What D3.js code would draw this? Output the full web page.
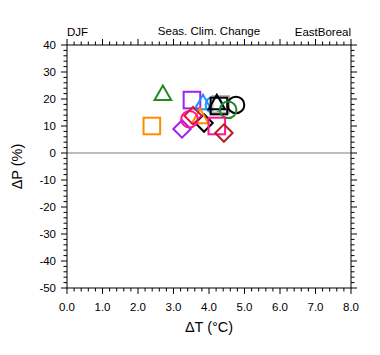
<!DOCTYPE html>
<html><head><meta charset="utf-8">
<script src="https://cdn.jsdelivr.net/npm/d3@7"></script>
<style>body{margin:0;background:#fff}</style>
</head><body>
<svg id="c" width="380" height="355"></svg>
<script>
const dT = [2.70, 2.39, 3.52, 3.24, 3.83, 4.14, 4.33, 4.22, 4.28, 4.76, 4.54, 3.86, 3.75, 3.45, 3.55, 4.22, 4.42];
const dP = [21.9, 10.0, 19.6, 8.9, 18.5, 17.8, 18.0, 18.5, 17.4, 17.8, 16.0, 11.1, 13.3, 12.5, 13.8, 10.0, 7.4];
const shapes = ["tri","sq","sq","dia","tri","circ","sq","tri","sq","circ","circ","dia","tri","circ","dia","sq","dia"];
const colors = ["#228b22","#ff8c00","#a020f0","#a020f0","#1e90ff","#1e90ff","#b0b0b0","#000000","#000000","#000000","#228b22","#000000","#ff8c00","#ff1493","#dc143c","#ff1493","#b22222"];
const xTicks = [0,1,2,3,4,5,6,7,8];
const yTicks = [40,30,20,10,0,-10,-20,-30,-40,-50];

const svg = d3.select("#c");
const L=67,R=351,T=45,B=288;
const x = d3.scaleLinear().domain([0,8]).range([L,R]);
const y = d3.scaleLinear().domain([-50,40]).range([B,T]);
const font = "Liberation Sans, Arial, sans-serif";

svg.append("line").attr("x1",L).attr("x2",R).attr("y1",y(0)).attr("y2",y(0))
  .attr("stroke","#a8a8a8").attr("stroke-width",1.5);

svg.append("rect").attr("x",L).attr("y",T).attr("width",R-L).attr("height",B-T)
  .attr("fill","none").attr("stroke","#000").attr("stroke-width",1);

const xMinor = d3.range(0,8.001,0.2);
const yMinor = d3.range(-50,40.001,2);
const g = svg.append("g").attr("stroke","#000").attr("stroke-width",1);
xMinor.forEach(v=>{
  const major = Math.abs(v-Math.round(v))<1e-6;
  const len = major?6:3.5;
  g.append("line").attr("x1",x(v)).attr("x2",x(v)).attr("y1",B).attr("y2",B+len);
  g.append("line").attr("x1",x(v)).attr("x2",x(v)).attr("y1",T).attr("y2",T-len);
});
yMinor.forEach(v=>{
  const major = Math.abs(v/10-Math.round(v/10))<1e-6;
  const len = major?6:3.5;
  g.append("line").attr("y1",y(v)).attr("y2",y(v)).attr("x1",L).attr("x2",L-len);
  g.append("line").attr("y1",y(v)).attr("y2",y(v)).attr("x1",R).attr("x2",R+len);
});

svg.selectAll(".xt").data(xTicks).enter().append("text")
  .attr("x",d=>x(d)).attr("y",311).attr("text-anchor","middle")
  .attr("font-family",font).attr("font-size",11.5).text(d=>d.toFixed(1));
svg.selectAll(".yt").data(yTicks).enter().append("text")
  .attr("x",56).attr("y",d=>y(d)+4).attr("text-anchor","end")
  .attr("font-family",font).attr("font-size",11.5).text(d=>d);

svg.append("text").attr("x",(L+R)/2).attr("y",332).attr("text-anchor","middle")
  .attr("font-family",font).attr("font-size",14.5).text("\u0394T (\u00B0C)");
svg.append("text").attr("transform",`translate(22,${(T+B)/2}) rotate(-90)`).attr("text-anchor","middle")
  .attr("font-family",font).attr("font-size",14.5).text("\u0394P (%)");

svg.append("text").attr("x",L).attr("y",36).attr("font-family",font).attr("font-size",11.5).text("DJF");
svg.append("text").attr("x",209).attr("y",35).attr("text-anchor","middle").attr("font-family",font).attr("font-size",11.5).text("Seas. Clim. Change");
svg.append("text").attr("x",R).attr("y",36).attr("text-anchor","end").attr("font-family",font).attr("font-size",11.5).text("EastBoreal");

const s = 8.3;
const pts = dT.map((t,i)=>({t, p:dP[i], sh:shapes[i], c:colors[i]}));
const mk = svg.append("g");
pts.forEach(d=>{
  const cx=x(d.t), cy=y(d.p);
  let el;
  if(d.sh==="sq") el = mk.append("rect").attr("x",cx-s).attr("y",cy-s).attr("width",2*s).attr("height",2*s);
  else if(d.sh==="circ") el = mk.append("circle").attr("cx",cx).attr("cy",cy).attr("r",s);
  else if(d.sh==="tri") el = mk.append("path").attr("d",`M${cx},${cy-s}L${cx+s},${cy+s*0.75}L${cx-s},${cy+s*0.75}Z`);
  else el = mk.append("path").attr("d",`M${cx},${cy-s*1.05}L${cx+s*1.05},${cy}L${cx},${cy+s*1.05}L${cx-s*1.05},${cy}Z`);
  el.attr("fill","none").attr("stroke",d.c).attr("stroke-width",2);
});
</script>
</body></html>
